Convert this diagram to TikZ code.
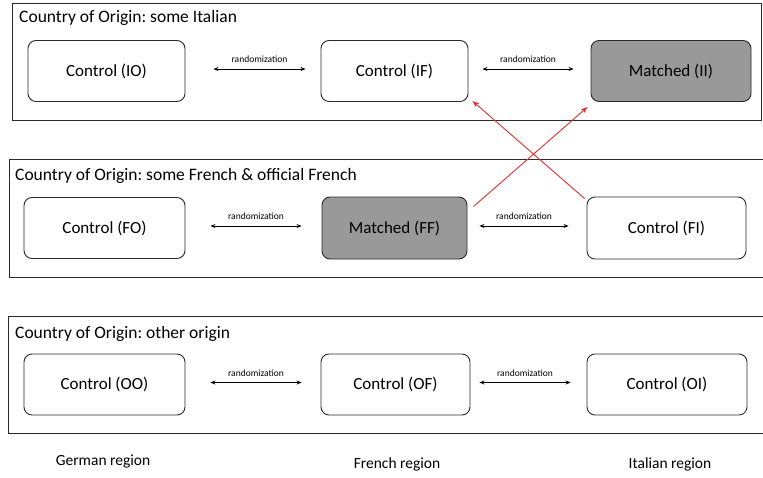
\documentclass[tikz,border=0pt]{standalone}
\usepackage{fontspec}
\setmainfont{Carlito}
\frenchspacing
\usetikzlibrary{arrows.meta,positioning}
\definecolor{Mc}{HTML}{999999}
\definecolor{Xr}{HTML}{E0302C}
\definecolor{Ed}{HTML}{2A2A2A}
\tikzset{
  ctrl/.style={draw=Ed, line width=0.9pt, rounded corners=8pt, fill=white, inner sep=0pt, minimum height=61pt, font=\fontsize{17}{20}\selectfont},
  mtch/.style={ctrl, fill=Mc},
  frm/.style={draw=Ed, line width=1pt},
  ttl/.style={anchor=west, inner sep=0pt, font=\fontsize{17.5}{20}\selectfont},
  reg/.style={inner sep=0pt, font=\fontsize{15.5}{18}\selectfont},
  rlab/.style={inner sep=1pt, font=\fontsize{9.5}{11}\selectfont},
  link/.style={{Stealth[length=5pt,width=4pt]}-{Stealth[length=5pt,width=4pt]}, line width=0.8pt},
  cross/.style={-{Stealth[length=7pt,width=5pt]}, Xr, line width=0.9pt},
}
\begin{document}
\begin{tikzpicture}[x=1pt, y=-1pt]
  \useasboundingbox (0,0) rectangle (763,477);
  \clip (0,0) rectangle (763,477);
  % three origin panels
  \draw[frm] (12,3) rectangle (761,120);
  \draw[frm] (9,159) rectangle (775,277);
  \draw[frm] (8,316) rectangle (775,433);
  \node[ttl] (t1) at (19,18) {Country of Origin: some Italian};
  \node[ttl] (t2) at (15,176) {Country of Origin: some French \& official French};
  \node[ttl] (t3) at (15,334) {Country of Origin: other origin};
  % row I
  \node[ctrl, minimum width=157pt] (io) at (106.5,71) {Control (IO)};
  \node[ctrl, minimum width=147pt] (if) at (394.5,71) {Control (IF)};
  \node[mtch, minimum width=160pt] (ii) at (671,71) {Matched (II)};
  % row F
  \node[ctrl, minimum width=161pt] (fo) at (104.5,228) {Control (FO)};
  \node[mtch, minimum width=145pt, minimum height=62pt] (ff) at (394.5,228) {Matched (FF)};
  \node[ctrl, minimum width=159pt, minimum height=62pt] (fi) at (666.5,228) {Control (FI)};
  % row O
  \node[ctrl, minimum width=161pt] (oo) at (104.5,384.5) {Control (OO)};
  \node[ctrl, minimum width=149pt] (of) at (395.5,384.5) {Control (OF)};
  \node[ctrl, minimum width=160pt] (oi) at (667,384.5) {Control (OI)};
  % randomization links: from/to/gap left/gap right
  \foreach \a/\b/\s/\t in {io/if/28/15, if/ii/14/17, fo/ff/25/20, ff/fi/12/18, oo/of/25/19, of/oi/9/16}
    \draw[link] ([xshift=\s pt, yshift=2pt]\a.east) -- ([xshift=-\t pt, yshift=2pt]\b.west)
      node[midway, above=5pt, rlab] {randomization};
  % swap between French and Italian
  \draw[cross] ([xshift=6pt, yshift=-10pt]ff.north east) -- ([xshift=-3pt, yshift=-5pt]ii.south west);
  \draw[cross] ([xshift=-2pt, yshift=-2pt]fi.north west) -- ([xshift=4pt, yshift=1pt]if.south east);
  % regions
  \node[reg] (rg) at (103,461) {German region};
  \node[reg] (rf) at (397,464) {French region};
  \node[reg] (ri) at (670,464) {Italian region};
\end{tikzpicture}
\end{document}
